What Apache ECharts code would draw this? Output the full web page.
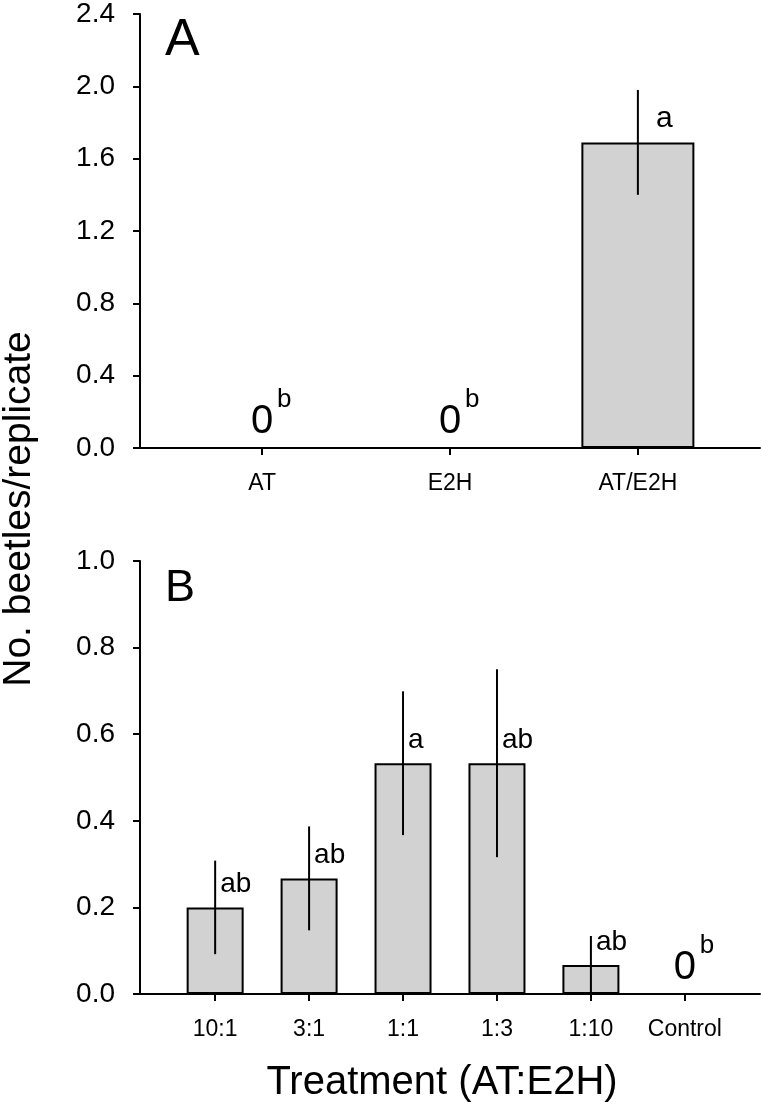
<!DOCTYPE html>
<html>
<head>
<meta charset="utf-8">
<script src="https://cdn.jsdelivr.net/npm/echarts@6/dist/echarts.min.js"></script>
<style>
html,body{margin:0;padding:0;background:#fff;}
#chart{width:761px;height:1105px;}
</style>
</head>
<body>
<div id="chart"></div>
<script>
// ---- data ----
const catsA = ['AT', 'E2H', 'AT/E2H'];
const meanA = [0, 0, 1.69];
const seA = [0, 0, 0.29];
const lettersA = ['b', 'b', 'a'];

const catsB = ['10:1', '3:1', '1:1', '1:3', '1:10', 'Control'];
const meanB = [0.2, 0.267, 0.533, 0.533, 0.067, 0];
const seB = [0.108, 0.12, 0.166, 0.217, 0.067, 0];
const lettersB = ['ab', 'ab', 'a', 'ab', 'ab', 'b'];

const ticksA = [0, 0.4, 0.8, 1.2, 1.6, 2.0, 2.4];
const ticksB = [0, 0.2, 0.4, 0.6, 0.8, 1.0];

const yTitle = 'No. beetles/replicate';
const xTitle = 'Treatment (AT:E2H)';

// ---- styles ----
const FONT = "'Liberation Sans', Arial, Helvetica, sans-serif";
const BAR_FILL = '#d2d2d2';

function xAxisCfg(gridIndex, cats, min, max) {
  const idx = cats.map((c, i) => i);
  return {
    type: 'value', gridIndex, min, max,
    splitLine: { show: false },
    axisLine: { show: true, onZero: false, lineStyle: { color: '#000', width: 2 } },
    axisTick: { show: true, customValues: idx, inside: false, length: 7, lineStyle: { color: '#000', width: 2 } },
    axisLabel: {
      customValues: idx, margin: 24, color: '#000', fontFamily: FONT, fontSize: 23,
      formatter: v => cats[Math.round(v)]
    }
  };
}
function yAxisCfg(gridIndex, ticks) {
  return {
    type: 'value', gridIndex, min: ticks[0], max: ticks[ticks.length - 1],
    interval: ticks[1] - ticks[0],
    splitLine: { show: false },
    axisLine: { show: true, onZero: false, lineStyle: { color: '#000', width: 2 } },
    axisTick: { show: true, length: 7, lineStyle: { color: '#000', width: 2 } },
    axisLabel: { margin: 25, color: '#000', fontFamily: FONT, fontSize: 28, formatter: v => v.toFixed(1) }
  };
}
function barSeries(ax, means, barWidth) {
  return {
    type: 'bar', xAxisIndex: ax, yAxisIndex: ax, barWidth,
    data: means.map((m, i) => [i, m]),
    itemStyle: { color: BAR_FILL, borderColor: '#000', borderWidth: 2 },
    silent: true, animation: false
  };
}
function errSeries(ax, means, ses, letters, dx, letterSize) {
  return {
    type: 'custom', xAxisIndex: ax, yAxisIndex: ax, animation: false, silent: true, z: 5,
    data: means.map((m, i) => [i, m, ses[i]]),
    renderItem: (params, api) => {
      const x = api.value(0), m = api.value(1), se = api.value(2);
      const letter = letters[params.dataIndex];
      const top = api.coord([x, m]);
      const children = [];
      if (se > 0) {
        const hi = api.coord([x, m + se]);
        const lo = api.coord([x, Math.max(0, m - se)]);
        children.push({ type: 'line', shape: { x1: top[0], y1: hi[1], x2: top[0], y2: lo[1] },
          style: { stroke: '#000', lineWidth: 2 } });
      }
      if (m > 0) {
        children.push({ type: 'text', style: { text: letter, x: top[0] + dx, y: top[1] - 9,
          align: 'left', verticalAlign: 'bottom', fill: '#000', fontFamily: FONT, fontSize: letterSize } });
      } else {
        children.push({ type: 'text', style: { text: '0', x: top[0], y: top[1] - 6,
          align: 'center', verticalAlign: 'bottom', fill: '#000', fontFamily: FONT, fontSize: 40 } });
        children.push({ type: 'text', style: { text: letter, x: top[0] + 15, y: top[1] - 35,
          align: 'left', verticalAlign: 'bottom', fill: '#000', fontFamily: FONT, fontSize: 26 } });
      }
      return { type: 'group', children };
    }
  };
}

const chart = echarts.init(document.getElementById('chart'), null, { renderer: 'canvas' });
chart.setOption({
  backgroundColor: '#fff',
  animation: false,
  grid: [
    { left: 140, right: 1, top: 14, height: 434 },
    { left: 140, right: 1, top: 561, height: 433 }
  ],
  xAxis: [xAxisCfg(0, catsA, -0.65, 2.65), xAxisCfg(1, catsB, -0.8, 5.8)],
  yAxis: [yAxisCfg(0, ticksA), yAxisCfg(1, ticksB)],
  series: [
    barSeries(0, meanA, 113),
    errSeries(0, meanA, seA, lettersA, 18, 30),
    barSeries(1, meanB, 57),
    errSeries(1, meanB, seB, lettersB, 5, 28)
  ],
  graphic: [
    { type: 'text', x: 165, y: 41, style: { text: 'A', fontFamily: FONT, fontSize: 52, fill: '#000', align: 'left', verticalAlign: 'middle' } },
    { type: 'text', x: 165, y: 589, style: { text: 'B', fontFamily: FONT, fontSize: 45, fill: '#000', align: 'left', verticalAlign: 'middle' } },
    { type: 'text', x: 19, y: 509, rotation: Math.PI / 2, style: { text: yTitle, fontFamily: FONT, fontSize: 39, fill: '#000', align: 'center', verticalAlign: 'middle' } },
    { type: 'text', x: 442, y: 1083, style: { text: xTitle, fontFamily: FONT, fontSize: 40, fill: '#000', align: 'center', verticalAlign: 'middle' } }
  ]
});
</script>
</body>
</html>
